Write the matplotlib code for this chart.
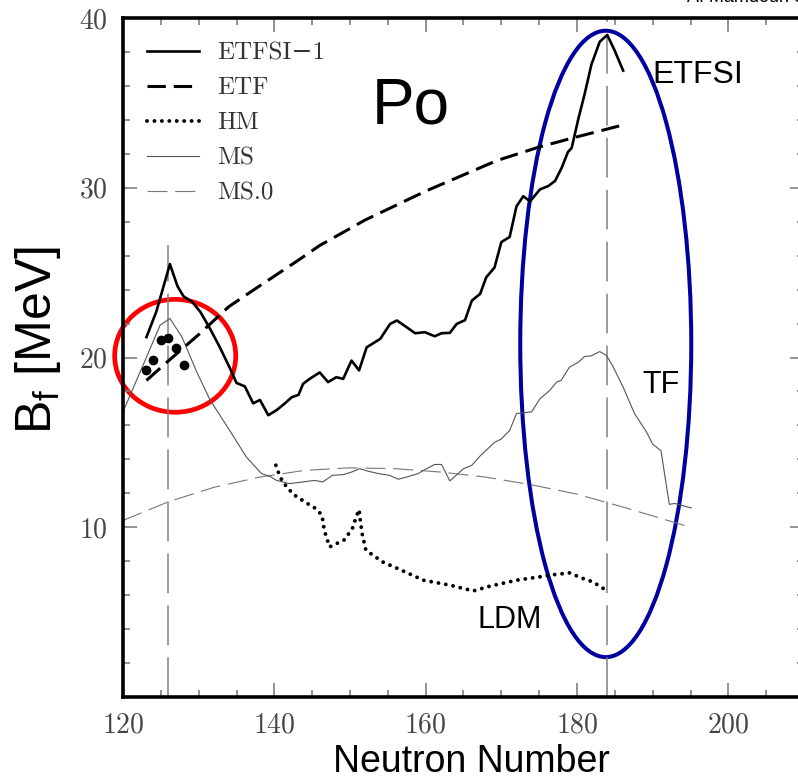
import matplotlib
matplotlib.use("Agg")
import matplotlib.pyplot as plt
from matplotlib.patches import Ellipse
from matplotlib.ticker import MultipleLocator

plt.rcParams['mathtext.fontset'] = 'custom'
plt.rcParams['mathtext.rm'] = 'Liberation Sans'
plt.rcParams['axes.formatter.use_mathtext'] = True

# fission barrier heights for Po isotopes (MeV) against neutron number
etfsi_n = [123.1, 124.4, 126.2, 127.2, 128.0, 129.1, 130.2, 131.5, 132.8, 134.1, 135.0, 136.1,
           137.2, 138.1, 139.2, 140.3, 141.4, 142.3, 143.2, 143.8, 144.7, 146.0, 147.1, 148.2,
           149.1, 150.2, 151.2, 152.2, 154.0, 155.3, 156.2, 157.5, 158.6, 159.9, 161.2, 162.1,
           163.2, 164.1, 165.2, 166.1, 167.2, 168.0, 169.1, 170.0, 171.1, 172.0, 172.9, 173.8,
           175.1, 176.2, 177.1, 178.0, 178.8, 179.3, 180.2, 181.0, 181.9, 183.0, 184.0, 185.0,
           186.1]
etfsi_b = [21.2, 22.7, 25.5, 24.2, 23.6, 23.3, 22.7, 21.7, 20.6, 19.4, 18.5, 18.3,
           17.3, 17.5, 16.6, 16.9, 17.3, 17.66, 17.8, 18.45, 18.75, 19.12, 18.55, 18.84,
           18.74, 19.82, 19.24, 20.6, 21.1, 21.98, 22.18, 21.78, 21.43, 21.49, 21.25, 21.43,
           21.45, 21.98, 22.2, 23.35, 23.75, 24.72, 25.3, 26.8, 27.1, 28.9, 29.5, 29.2,
           29.9, 30.1, 30.4, 31.2, 32.1, 32.35, 34.1, 35.5, 37.25, 38.6, 39.0, 38.06,
           36.9]

etf_n = [123.1, 126, 130, 134, 138, 143.4, 146, 152, 160, 169.4, 175, 180, 186.1]
etf_b = [18.65, 19.8, 21.35, 23.0, 24.2, 25.8, 26.6, 28.1, 29.8, 31.6, 32.4, 33.0, 33.7]

hm_n = [140.2, 140.6, 141.1, 142.5, 144.4, 145.5, 146.3, 146.6, 147.3, 149.3, 150.4, 150.8,
        151.2, 151.3, 151.6, 152.1, 154.3, 156.8, 159.7, 163.2, 166.3, 168.5, 172.0, 175.1,
        176.4, 179.0, 180.8, 182.1, 183.7]
hm_b = [13.65, 13.16, 12.67, 11.94, 11.39, 11.1, 10.7, 9.82, 8.84, 9.27, 10.0, 10.6,
        11.04, 10.6, 9.63, 8.65, 7.96, 7.47, 6.88, 6.59, 6.25, 6.53, 6.88, 7.08,
        7.18, 7.31, 6.98, 6.78, 6.33]

ms_n = [120, 122.7, 124.9, 126.2, 127.8, 129.7, 131.5, 134.1, 136.3, 138.3, 139.4, 140.3,
        142.0, 143.8, 145.3, 146.4, 147.7, 149.1, 150.2, 151.3, 152.4, 153.9, 155.2, 156.4,
        157.5, 159.0, 159.7, 161.2, 162.1, 163.2, 165.0, 166.1, 167.2, 169.1, 170.0, 171.1,
        172.0, 172.7, 174.0, 175.1, 176.4, 177.3, 177.9, 179.0, 180.2, 181.0, 181.9, 183.0,
        183.9, 184.8, 186.1, 187.6, 189.2, 190.0, 191.1, 192.2, 192.9, 195.1]
ms_b = [16.8, 19.6, 21.9, 22.3, 21.2, 19.2, 17.5, 15.7, 14.14, 13.16, 13.0, 12.76,
        12.57, 12.67, 12.76, 12.67, 13.06, 13.1, 13.25, 13.45, 13.3, 13.15, 13.06, 12.83,
        12.96, 13.16, 13.35, 13.7, 13.7, 12.73, 13.45, 13.65, 14.2, 15.0, 15.2, 15.7,
        16.7, 16.73, 16.8, 17.57, 18.06, 18.55, 18.65, 19.43, 19.73, 20.06, 20.1, 20.35,
        20.12, 19.43, 18.25, 16.7, 15.6, 14.9, 14.5, 11.35, 11.4, 11.14]

ms0_n = [120, 126, 132, 138, 144, 150, 156, 162, 168, 174, 180, 186, 192, 195]
ms0_b = [10.4, 11.5, 12.35, 12.95, 13.35, 13.5, 13.45, 13.25, 12.95, 12.5, 11.95, 11.2, 10.4, 10.0]

exp_n = [123, 124, 125, 126, 127, 128]
exp_b = [19.24, 19.86, 21.04, 21.16, 20.55, 19.53]

# shell closures
magic_n = [126, 184]
magic_top = [26.6, 40.0]

fig = plt.figure(figsize=(7.98, 7.79), dpi=100)
ax = fig.add_axes([123 / 798, 82 / 779, 681 / 798, 679 / 779])

for n, top in zip(magic_n, magic_top):
    ax.plot([n, n], [0, top], color='#808080', lw=1.1, dashes=(26, 8))

ax.plot(ms0_n, ms0_b, color='#777777', lw=0.8, dashes=(18, 7), label='MS.0')
ax.plot(ms_n, ms_b, color='#555555', lw=0.8, label='MS')
ax.plot(hm_n, hm_b, color='black', lw=2.8, dashes=(0.01, 1.9), dash_capstyle='round', label='HM')
ax.plot(etf_n, etf_b, color='black', lw=2.2, dashes=(6, 2.6), label='ETF')
ax.plot(etfsi_n, etfsi_b, color='black', lw=1.9, label='ETFSI\u22121')
ax.plot(exp_n, exp_b, 'o', color='black', ms=6)

ax.add_patch(Ellipse((126.9, 20.1), 16.0, 6.65, fill=False, ec='red', lw=3.4, clip_on=False))
ax.add_patch(Ellipse((183.8, 20.8), 22.6, 36.9, fill=False, ec='#0000a0', lw=2.9, clip_on=False))

sans = 'Liberation Sans'
ax.text(152.9, 33.8, 'Po', fontsize=46, family=sans)
ax.text(190.0, 36.2, 'ETFSI', fontsize=23, family=sans)
ax.text(188.7, 17.9, 'TF', fontsize=22, family=sans)
ax.text(166.8, 4.06, 'LDM', fontsize=22, family=sans)

ax.set_xlim(120, 210)
ax.set_ylim(0, 40)
ax.xaxis.set_major_locator(MultipleLocator(20))
ax.xaxis.set_minor_locator(MultipleLocator(5))
ax.set_yticks([10, 20, 30, 40])
ax.yaxis.set_minor_locator(MultipleLocator(2))
ax.tick_params(which='both', direction='in', top=True, right=True, color='#808080',
               width=1.2, labelsize=20, labelcolor='#444444', pad=11)
ax.tick_params(which='major', length=10)
ax.tick_params(which='minor', length=5)
for lab in ax.get_xticklabels() + ax.get_yticklabels():
    lab.set_family(['cmr10', 'DejaVu Serif'])
for sp in ax.spines.values():
    sp.set_linewidth(2.6)

ax.set_xlabel('Neutron Number', fontsize=27, family=sans)
ax.xaxis.set_label_coords(0.512, -0.069)
ax.set_ylabel(r'B$_\mathrm{f}$ [MeV]', fontsize=36, family=sans)
ax.yaxis.set_label_coords(-0.088, 0.526)

handles, labels = ax.get_legend_handles_labels()
order = [4, 3, 2, 1, 0]
leg = ax.legend([handles[i] for i in order], [labels[i] for i in order],
                loc='upper left', bbox_to_anchor=(0.035, 0.965), frameon=False,
                borderpad=0, borderaxespad=0, handlelength=2.1, handletextpad=0.7,
                labelspacing=0.5, prop={'family': ['cmr10', 'DejaVu Serif'], 'size': 18})
for t in leg.get_texts():
    t.set_color('#333333')

fig.text(687 / 798, 1 - 2 / 779, 'A. Mamdouh et al.', fontsize=13, family=sans)

fig.savefig('out.png', dpi=100)
